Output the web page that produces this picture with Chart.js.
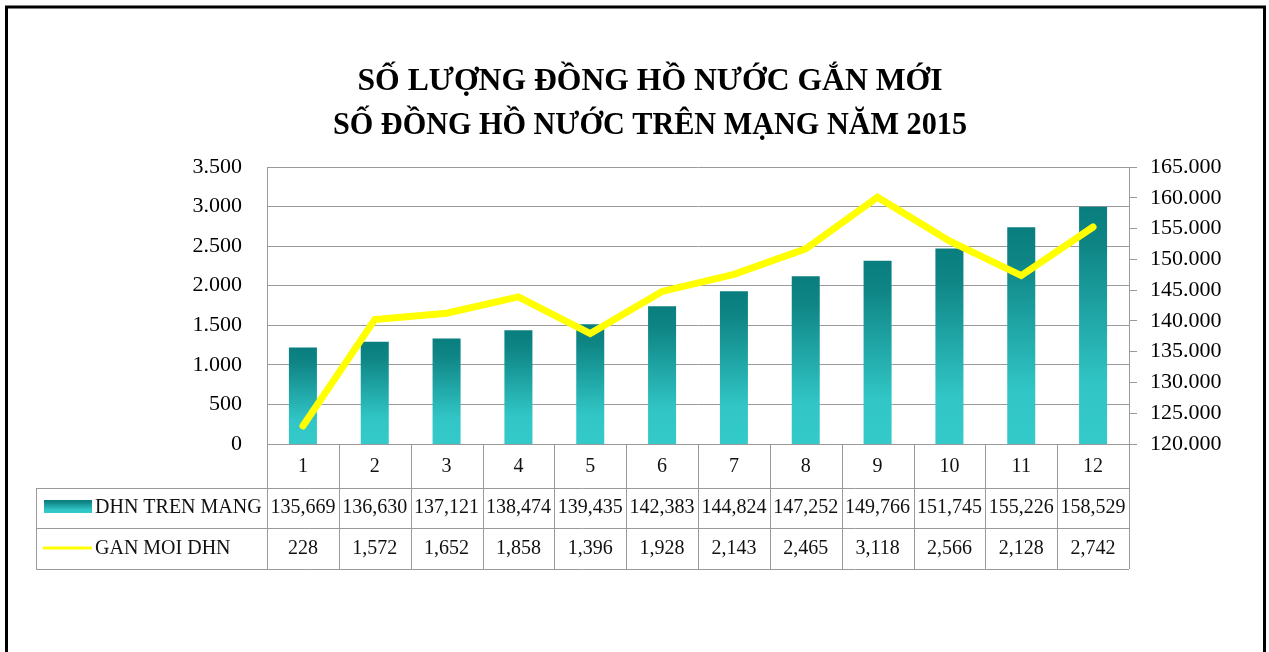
<!DOCTYPE html>
<html><head><meta charset="utf-8">
<script src="https://cdn.jsdelivr.net/npm/chart.js@4/dist/chart.umd.min.js"></script>
<style>html,body{margin:0;padding:0;background:#fff;overflow:hidden}canvas{display:block}</style>
</head><body>
<canvas id="c" width="1269" height="652"></canvas>
<script>
const titleLines = ['SỐ LƯỢNG ĐỒNG HỒ NƯỚC GẮN MỚI', 'SỐ ĐỒNG HỒ NƯỚC TRÊN MẠNG NĂM 2015'];
const categories = ['1','2','3','4','5','6','7','8','9','10','11','12'];
const dhnTrenMang = [135669,136630,137121,138474,139435,142383,144824,147252,149766,151745,155226,158529];
const ganMoiDhn = [228,1572,1652,1858,1396,1928,2143,2465,3118,2566,2128,2742];
const seriesNames = ['DHN TREN MANG', 'GAN MOI DHN'];
const leftAxis = {min: 0, max: 3500, step: 500};
const rightAxis = {min: 120000, max: 165000, step: 5000};

function fmt(v, sep){ return String(Math.round(v)).replace(/\B(?=(\d{3})+(?!\d))/g, sep); }

const GRID = '#9a9a9a';
const SERIF = '"Liberation Serif", "Times New Roman", serif';

function barGradient(ctx2d, top, bottom){
  const g = ctx2d.createLinearGradient(0, top, 0, bottom);
  g.addColorStop(0, '#0a7e7e');
  g.addColorStop(0.15, '#0e8484');
  g.addColorStop(0.75, '#31c5c5');
  g.addColorStop(1, '#35caca');
  return g;
}

const framePlugin = {
  id: 'frame',
  beforeDraw(chart){
    const c = chart.ctx;
    c.save(); c.fillStyle = '#fff'; c.fillRect(0,0,chart.width,chart.height);
    c.fillStyle = '#000';
    c.font = 'bold 32px ' + SERIF;
    c.textAlign = 'center'; c.textBaseline = 'alphabetic';
    c.fillText(titleLines[0], 650, 90, 585);
    c.fillText(titleLines[1], 650, 134, 634);
    c.restore();
  },
  afterDraw(chart){
    const c = chart.ctx;
    const ca = chart.chartArea;
    const x = chart.scales.x;
    const n = categories.length;
    const cw = (ca.right - ca.left) / n;
    const r0 = ca.bottom, r1 = r0 + 44, r2 = r1 + 40, r3 = r2 + 41;
    const tLeft = 36;
    c.save();
    c.strokeStyle = GRID; c.lineWidth = 1;
    c.beginPath();
    c.moveTo(ca.left, r0 + 0.5); c.lineTo(ca.right, r0 + 0.5);
    [r1, r2, r3].forEach(y => { c.moveTo(tLeft, y + 0.5); c.lineTo(ca.right, y + 0.5); });
    for (let i = 0; i <= n; i++) {
      const xx = Math.round(ca.left + i * cw) + 0.5;
      c.moveTo(xx, r0); c.lineTo(xx, r3);
    }
    c.moveTo(tLeft + 0.5, r1); c.lineTo(tLeft + 0.5, r3);
    c.stroke();

    c.fillStyle = '#111';
    c.font = '20px ' + SERIF;
    c.textAlign = 'center'; c.textBaseline = 'middle';
    for (let i = 0; i < n; i++) {
      const cx = x.getPixelForValue(i);
      c.fillText(categories[i], cx, (r0 + r1) / 2 + 1);
      c.fillText(fmt(dhnTrenMang[i], ','), cx, (r1 + r2) / 2);
      c.fillText(fmt(ganMoiDhn[i], ','), cx, (r2 + r3) / 2);
    }
    c.textAlign = 'left';
    c.fillStyle = barGradient(c, 500, 513);
    c.fillRect(44, 500, 48, 13);
    c.strokeStyle = '#ffff00'; c.lineWidth = 3;
    c.beginPath(); c.moveTo(43, 548); c.lineTo(92, 548); c.stroke();
    c.fillStyle = '#111';
    c.fillText(seriesNames[0], 95, (r1 + r2) / 2);
    c.fillText(seriesNames[1], 95, (r2 + r3) / 2);
    c.strokeStyle = '#000'; c.lineWidth = 3;
    c.strokeRect(6.5, 7, 1258, 720);
    c.restore();
  }
};

new Chart(document.getElementById('c'), {
  data: {
    labels: categories,
    datasets: [
      {
        type: 'line', label: seriesNames[1], data: ganMoiDhn, yAxisID: 'yL', order: 0,
        borderColor: '#ffff00', borderWidth: 7, pointRadius: 0, tension: 0,
        borderCapStyle: 'round', borderJoinStyle: 'miter', fill: false
      },
      {
        type: 'bar', label: seriesNames[0], data: dhnTrenMang, yAxisID: 'yR', order: 1,
        categoryPercentage: 1, barPercentage: 0.39,
        backgroundColor: (ctx) => {
          const chart = ctx.chart;
          if (!chart.chartArea || ctx.type !== 'data') return '#1fa5a5';
          const ys = chart.scales.yR;
          return barGradient(chart.ctx, ys.getPixelForValue(ctx.raw), ys.getPixelForValue(ys.min));
        },
        borderWidth: 0
      }
    ]
  },
  options: {
    responsive: false, animation: false,
    layout: { padding: { left: 0, right: 0, top: 167, bottom: 208 } },
    plugins: {
      legend: { display: false },
      tooltip: { enabled: false },
      title: { display: false }
    },
    scales: {
      x: { display: false, offset: true, grid: { display: false } },
      yL: {
        position: 'left', min: leftAxis.min, max: leftAxis.max,
        afterFit(s){ s.width = 267; },
        ticks: { stepSize: leftAxis.step, color: '#000', padding: 25,
          font: { family: SERIF, size: 22 }, callback: v => fmt(v, '.') },
        grid: { color: GRID, lineWidth: 1, drawTicks: false },
        border: { color: GRID, width: 1 }
      },
      yR: {
        position: 'right', min: rightAxis.min, max: rightAxis.max,
        afterFit(s){ s.width = 140; },
        ticks: { stepSize: rightAxis.step, color: '#000', padding: 13,
          font: { family: SERIF, size: 22 }, callback: v => fmt(v, '.') },
        grid: { drawOnChartArea: false, drawTicks: true, tickLength: 8, color: GRID, lineWidth: 1 },
        border: { color: GRID, width: 1 }
      }
    }
  },
  plugins: [framePlugin]
});
</script>
</body></html>
